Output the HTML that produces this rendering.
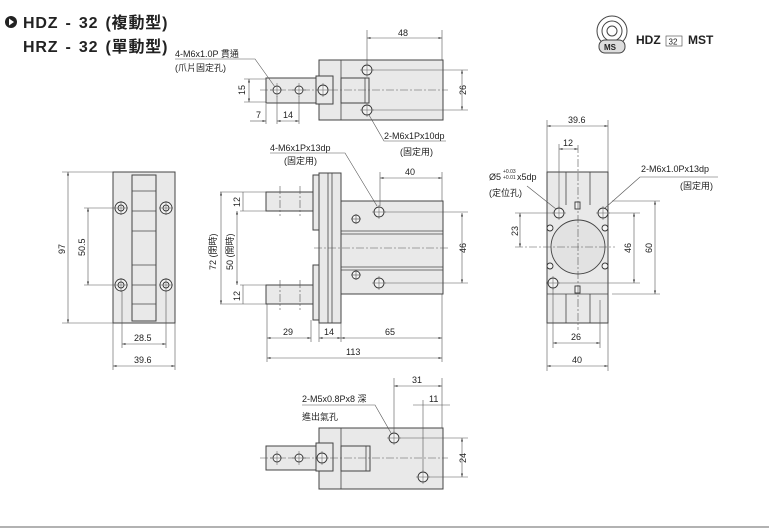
<!DOCTYPE html>
<html><head><meta charset="utf-8"><style>
html,body{margin:0;padding:0;background:#fff;}
svg{display:block;}
text{font-family:"Liberation Sans","Noto Sans CJK TC",sans-serif;fill:#222;}
.b{fill:#e9e9e9;stroke:#444;stroke-width:1;}
.l{stroke:#444;stroke-width:0.8;fill:none;}
.d{stroke:#555;stroke-width:0.6;fill:none;}
.c{stroke:#555;stroke-width:0.6;fill:none;stroke-dasharray:8 2 2 2;}
.h{fill:#f4f4f4;stroke:#333;stroke-width:0.9;}
.t{font-size:9px;}
.ti{font-size:16px;font-weight:bold;letter-spacing:0.8px;word-spacing:2px;}
</style></head><body>
<svg width="769" height="531" viewBox="0 0 769 531" xmlns="http://www.w3.org/2000/svg">
<defs>
<marker id="a" viewBox="0 0 10 10" refX="10" refY="5" markerWidth="6" markerHeight="6" orient="auto-start-reverse"><path d="M0,2 L10,5 L0,8z" fill="#444"/></marker>
<g id="x"><line x1="-7" y1="0" x2="7" y2="0" stroke="#555" stroke-width="0.5"/><line x1="0" y1="-7" x2="0" y2="7" stroke="#555" stroke-width="0.5"/></g>
</defs>

<circle cx="11" cy="22" r="6" fill="#222"/><path d="M9,18.5 L14,22 L9,25.5z" fill="#fff"/>
<text class="ti" x="23" y="28">HDZ - 32  (複動型)</text>
<text class="ti" x="23" y="52">HRZ - 32  (單動型)</text>

<circle cx="612" cy="31" r="15" fill="#fff" stroke="#444"/>
<circle cx="612" cy="31" r="10" fill="none" stroke="#444"/>
<circle cx="612" cy="31" r="5" fill="none" stroke="#444"/>
<rect x="599" y="40" width="26" height="13" rx="6" fill="#ddd" stroke="#444"/>
<text x="604" y="50" font-size="8" font-weight="bold">MS</text>
<text x="636" y="44" font-size="12" font-weight="bold">HDZ</text>
<rect x="666" y="36" width="16" height="10" fill="none" stroke="#444" stroke-width="0.6"/>
<text x="668.5" y="44.5" font-size="8">32</text>
<text x="688" y="44" font-size="12" font-weight="bold">MST</text>

<!-- TOP VIEW -->
<rect class="b" x="319" y="60" width="124" height="60"/>
<line class="l" x1="341" y1="60" x2="341" y2="120"/>
<rect class="b" x="341" y="78" width="28" height="25"/>
<line class="l" x1="365" y1="78" x2="365" y2="103"/>
<rect class="b" x="266" y="78" width="50" height="25"/>
<rect class="b" x="316" y="76" width="17" height="28"/>
<line class="c" x1="260" y1="90" x2="448" y2="90"/>
<circle class="h" cx="277" cy="90" r="4"/><circle class="h" cx="299" cy="90" r="4"/><circle class="h" cx="323" cy="90" r="5"/>
<use href="#x" x="277" y="90"/><use href="#x" x="299" y="90"/><use href="#x" x="323" y="90"/>
<circle class="h" cx="367" cy="70" r="5"/><circle class="h" cx="367" cy="110" r="5"/>
<use href="#x" x="367" y="70"/><use href="#x" x="367" y="110"/>
<line class="d" x1="367" y1="30" x2="367" y2="64"/><line class="d" x1="442" y1="30" x2="442" y2="60"/>
<line class="d" x1="367" y1="38" x2="442" y2="38" marker-start="url(#a)" marker-end="url(#a)"/>
<text class="t" x="398" y="36">48</text>
<line class="d" x1="373" y1="70" x2="468" y2="70"/><line class="d" x1="373" y1="110" x2="468" y2="110"/>
<line class="d" x1="462" y1="70" x2="462" y2="110" marker-start="url(#a)" marker-end="url(#a)"/>
<text class="t" transform="translate(466,95) rotate(-90)">26</text>
<line class="d" x1="244" y1="79" x2="266" y2="79"/><line class="d" x1="244" y1="102" x2="266" y2="102"/>
<line class="d" x1="249" y1="79" x2="249" y2="102" marker-start="url(#a)" marker-end="url(#a)"/>
<text class="t" transform="translate(245,95) rotate(-90)">15</text>
<line class="d" x1="266" y1="104" x2="266" y2="124"/><line class="d" x1="277" y1="96" x2="277" y2="124"/><line class="d" x1="299" y1="96" x2="299" y2="124"/>
<line class="d" x1="250" y1="121" x2="266" y2="121" marker-end="url(#a)"/>
<line class="d" x1="277" y1="121" x2="299" y2="121" marker-start="url(#a)" marker-end="url(#a)"/>
<text class="t" x="256" y="118">7</text><text class="t" x="283" y="118">14</text>
<text class="t" x="175" y="57">4-M6x1.0P 貫通</text>
<text class="t" x="175" y="71">(爪片固定孔)</text>
<polyline class="d" points="175,59 255,59 275,87"/>
<polyline class="d" points="369,115 384,141 446,141"/>
<text class="t" x="384" y="139">2-M6x1Px10dp</text>
<text class="t" x="400" y="155">(固定用)</text>

<!-- LEFT VIEW -->
<rect class="b" x="113" y="172" width="62" height="151"/>
<rect class="b" x="132" y="175" width="24" height="146"/>
<g class="l"><line x1="132" y1="191" x2="156" y2="191"/><line x1="132" y1="211" x2="156" y2="211"/><line x1="132" y1="231" x2="156" y2="231"/><line x1="132" y1="265" x2="156" y2="265"/><line x1="132" y1="285" x2="156" y2="285"/><line x1="132" y1="304" x2="156" y2="304"/></g>
<g>
<circle class="h" cx="121" cy="208" r="6"/><circle class="h" cx="121" cy="208" r="3"/>
<circle class="h" cx="166" cy="208" r="6"/><circle class="h" cx="166" cy="208" r="3"/>
<circle class="h" cx="121" cy="285" r="6"/><circle class="h" cx="121" cy="285" r="3"/>
<circle class="h" cx="166" cy="285" r="6"/><circle class="h" cx="166" cy="285" r="3"/>
<use href="#x" x="121" y="208"/><use href="#x" x="166" y="208"/><use href="#x" x="121" y="285"/><use href="#x" x="166" y="285"/>
</g>
<line class="d" x1="62" y1="172" x2="113" y2="172"/><line class="d" x1="62" y1="323" x2="113" y2="323"/>
<line class="d" x1="68" y1="172" x2="68" y2="323" marker-start="url(#a)" marker-end="url(#a)"/>
<text class="t" transform="translate(65,254) rotate(-90)">97</text>
<line class="d" x1="84" y1="208" x2="114" y2="208"/><line class="d" x1="84" y1="285" x2="114" y2="285"/>
<line class="d" x1="88" y1="208" x2="88" y2="285" marker-start="url(#a)" marker-end="url(#a)"/>
<text class="t" transform="translate(85,256) rotate(-90)">50.5</text>
<line class="d" x1="122" y1="291" x2="122" y2="348"/><line class="d" x1="166" y1="291" x2="166" y2="348"/>
<line class="d" x1="113" y1="323" x2="113" y2="370"/><line class="d" x1="175" y1="323" x2="175" y2="370"/>
<line class="d" x1="122" y1="344" x2="166" y2="344" marker-start="url(#a)" marker-end="url(#a)"/>
<text class="t" x="134" y="341">28.5</text>
<line class="d" x1="113" y1="366" x2="175" y2="366" marker-start="url(#a)" marker-end="url(#a)"/>
<text class="t" x="134" y="363">39.6</text>

<!-- SIDE VIEW -->
<rect class="b" x="266" y="192" width="48" height="19"/>
<rect class="b" x="266" y="285" width="48" height="19"/>
<path class="b" d="M313,175 H319 V230 H313 Z"/>
<path class="b" d="M313,265 H319 V320 H313 Z"/>
<rect class="b" x="319" y="173" width="22" height="150"/>
<line class="l" x1="328" y1="173" x2="328" y2="323"/><line class="l" x1="332" y1="173" x2="332" y2="323"/>
<rect class="b" x="341" y="201" width="102" height="93"/>
<g class="l"><line x1="341" y1="231" x2="443" y2="231"/><line x1="341" y1="234" x2="443" y2="234"/><line x1="341" y1="267" x2="443" y2="267"/><line x1="341" y1="270" x2="443" y2="270"/></g>
<line class="c" x1="314" y1="248" x2="448" y2="248"/>
<g class="c"><line x1="280" y1="186" x2="280" y2="216"/><line x1="300" y1="186" x2="300" y2="216"/><line x1="280" y1="280" x2="280" y2="310"/><line x1="300" y1="280" x2="300" y2="310"/></g>
<circle class="h" cx="379" cy="212" r="5"/><circle class="h" cx="379" cy="283" r="5"/>
<use href="#x" x="379" y="212"/><use href="#x" x="379" y="283"/>
<circle class="h" cx="356" cy="219" r="4"/><circle class="h" cx="356" cy="275" r="4"/>
<g class="d"><line x1="351" y1="219" x2="361" y2="219"/><line x1="356" y1="214" x2="356" y2="224"/><line x1="351" y1="275" x2="361" y2="275"/><line x1="356" y1="270" x2="356" y2="280"/></g>
<line class="d" x1="385" y1="212" x2="468" y2="212"/><line class="d" x1="385" y1="283" x2="468" y2="283"/>
<line class="d" x1="462" y1="213" x2="462" y2="283" marker-start="url(#a)" marker-end="url(#a)"/>
<text class="t" transform="translate(466,253) rotate(-90)">46</text>
<line class="d" x1="380" y1="172" x2="380" y2="206"/><line class="d" x1="442" y1="172" x2="442" y2="201"/>
<line class="d" x1="380" y1="178" x2="442" y2="178" marker-start="url(#a)" marker-end="url(#a)"/>
<text class="t" x="405" y="175">40</text>
<polyline class="d" points="270,153 345,153 377,206"/>
<text class="t" x="270" y="151">4-M6x1Px13dp</text>
<text class="t" x="284" y="164">(固定用)</text>
<line class="d" x1="220" y1="192" x2="266" y2="192"/><line class="d" x1="220" y1="304" x2="266" y2="304"/>
<line class="d" x1="240" y1="211" x2="266" y2="211"/><line class="d" x1="240" y1="285" x2="266" y2="285"/>
<line class="d" x1="243" y1="192" x2="243" y2="211"/><line class="d" x1="243" y1="285" x2="243" y2="304"/>
<text class="t" transform="translate(240,207) rotate(-90)">12</text>
<text class="t" transform="translate(240,301) rotate(-90)">12</text>
<line class="d" x1="221" y1="192" x2="221" y2="304" marker-start="url(#a)" marker-end="url(#a)"/>
<line class="d" x1="237" y1="211" x2="237" y2="285" marker-start="url(#a)" marker-end="url(#a)"/>
<text class="t" transform="translate(216,270) rotate(-90)">72  (閉時)</text>
<text class="t" transform="translate(233,270) rotate(-90)">50  (開時)</text>
<g class="d"><line x1="267" y1="304" x2="267" y2="362"/><line x1="311" y1="320" x2="311" y2="342"/><line x1="319" y1="323" x2="319" y2="342"/><line x1="341" y1="323" x2="341" y2="342"/><line x1="442" y1="294" x2="442" y2="362"/></g>
<line class="d" x1="267" y1="338" x2="311" y2="338" marker-start="url(#a)" marker-end="url(#a)"/>
<line class="d" x1="319" y1="338" x2="341" y2="338" marker-start="url(#a)" marker-end="url(#a)"/>
<line class="d" x1="341" y1="338" x2="442" y2="338" marker-start="url(#a)" marker-end="url(#a)"/>
<line class="d" x1="267" y1="358" x2="442" y2="358" marker-start="url(#a)" marker-end="url(#a)"/>
<text class="t" x="283" y="335">29</text><text class="t" x="324" y="335">14</text><text class="t" x="385" y="335">65</text><text class="t" x="346" y="355">113</text>

<!-- RIGHT VIEW -->
<rect class="b" x="547" y="172" width="61" height="151"/>
<g class="l"><line x1="566" y1="172" x2="566" y2="205"/><line x1="590" y1="172" x2="590" y2="205"/><line x1="566" y1="294" x2="566" y2="323"/><line x1="590" y1="294" x2="590" y2="323"/><line x1="547" y1="294" x2="608" y2="294"/></g>
<circle cx="578" cy="247" r="27" fill="#e2e2e2" stroke="#444" stroke-width="0.9"/>
<rect class="h" x="575" y="202" width="5" height="7"/><rect class="h" x="575" y="286" width="5" height="7"/>
<circle class="h" cx="550" cy="228" r="3"/><circle class="h" cx="605" cy="228" r="3"/><circle class="h" cx="550" cy="266" r="3"/><circle class="h" cx="605" cy="266" r="3"/>
<circle class="h" cx="559" cy="213" r="5"/><circle class="h" cx="603" cy="213" r="5"/><circle class="h" cx="553" cy="283" r="5"/>
<use href="#x" x="559" y="213"/><use href="#x" x="603" y="213"/><use href="#x" x="553" y="283"/>
<line class="c" x1="578" y1="145" x2="578" y2="330"/>
<line class="c" x1="515" y1="247" x2="615" y2="247"/>
<line class="d" x1="515" y1="213" x2="553" y2="213"/><line class="d" x1="520" y1="213" x2="520" y2="247" marker-start="url(#a)" marker-end="url(#a)"/>
<text class="t" transform="translate(518,236) rotate(-90)">23</text>
<line class="d" x1="609" y1="213" x2="640" y2="213"/><line class="d" x1="559" y1="283" x2="640" y2="283"/>
<line class="d" x1="634" y1="213" x2="634" y2="283" marker-start="url(#a)" marker-end="url(#a)"/>
<text class="t" transform="translate(631,253) rotate(-90)">46</text>
<line class="d" x1="612" y1="201" x2="660" y2="201"/><line class="d" x1="612" y1="294" x2="660" y2="294"/>
<line class="d" x1="655" y1="201" x2="655" y2="294" marker-start="url(#a)" marker-end="url(#a)"/>
<text class="t" transform="translate(652,253) rotate(-90)">60</text>
<line class="d" x1="547" y1="120" x2="547" y2="172"/><line class="d" x1="608" y1="120" x2="608" y2="172"/>
<line class="d" x1="547" y1="126" x2="608" y2="126" marker-start="url(#a)" marker-end="url(#a)"/>
<text class="t" x="568" y="123">39.6</text>
<line class="d" x1="559" y1="144" x2="559" y2="208"/>
<line class="d" x1="559" y1="149" x2="578" y2="149" marker-start="url(#a)" marker-end="url(#a)"/>
<text class="t" x="563" y="146">12</text>
<g class="d"><line x1="553" y1="288" x2="553" y2="348"/><line x1="600" y1="300" x2="600" y2="348"/><line x1="547" y1="323" x2="547" y2="371"/><line x1="608" y1="323" x2="608" y2="371"/></g>
<line class="d" x1="553" y1="343" x2="600" y2="343" marker-start="url(#a)" marker-end="url(#a)"/>
<text class="t" x="571" y="340">26</text>
<line class="d" x1="547" y1="366" x2="608" y2="366" marker-start="url(#a)" marker-end="url(#a)"/>
<text class="t" x="572" y="363">40</text>
<text class="t" x="489" y="180">Ø5</text><text x="503" y="173" font-size="5">+0.03</text><text x="503" y="179" font-size="5">+0.01</text><text class="t" x="517" y="180">x5dp</text>
<text class="t" x="489" y="196">(定位孔)</text>
<line class="d" x1="527" y1="186" x2="556" y2="209"/>
<text class="t" x="641" y="172">2-M6x1.0Px13dp</text>
<text class="t" x="680" y="189">(固定用)</text>
<polyline class="d" points="718,177 640,177 605,208"/>

<!-- BOTTOM VIEW -->
<rect class="b" x="319" y="428" width="124" height="61"/>
<line class="l" x1="341" y1="428" x2="341" y2="489"/>
<rect class="b" x="341" y="446" width="29" height="25"/>
<line class="l" x1="366" y1="446" x2="366" y2="471"/>
<rect class="b" x="266" y="446" width="50" height="24"/>
<rect class="b" x="316" y="443" width="17" height="28"/>
<line class="c" x1="260" y1="458" x2="448" y2="458"/>
<circle class="h" cx="277" cy="458" r="4"/><circle class="h" cx="299" cy="458" r="4"/><circle class="h" cx="322" cy="458" r="5"/>
<use href="#x" x="277" y="458"/><use href="#x" x="299" y="458"/><use href="#x" x="322" y="458"/>
<circle class="h" cx="394" cy="438" r="5"/><circle class="h" cx="423" cy="477" r="5"/>
<use href="#x" x="394" y="438"/><use href="#x" x="423" y="477"/>
<line class="d" x1="394" y1="378" x2="394" y2="432"/><line class="d" x1="442" y1="378" x2="442" y2="428"/>
<line class="d" x1="394" y1="386" x2="442" y2="386" marker-start="url(#a)" marker-end="url(#a)"/>
<text class="t" x="412" y="383">31</text>
<line class="d" x1="423" y1="400" x2="423" y2="471"/>
<line class="d" x1="413" y1="405" x2="450" y2="405"/>
<text class="t" x="429" y="402">11</text>
<line class="d" x1="400" y1="438" x2="468" y2="438"/><line class="d" x1="429" y1="477" x2="468" y2="477"/>
<line class="d" x1="462" y1="438" x2="462" y2="477" marker-start="url(#a)" marker-end="url(#a)"/>
<text class="t" transform="translate(466,463) rotate(-90)">24</text>
<text class="t" x="302" y="402">2-M5x0.8Px8 深</text>
<text class="t" x="302" y="420">進出氣孔</text>
<polyline class="d" points="302,405 375,405 391,433"/>

<line x1="0" y1="527" x2="769" y2="527" stroke="#999" stroke-width="1.5"/>
</svg>
</body></html>
